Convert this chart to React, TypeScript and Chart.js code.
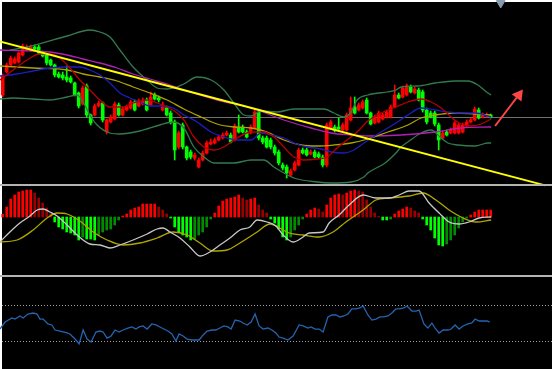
import React, { useEffect, useRef } from "react";
import { Chart, registerables } from "chart.js";
Chart.register(...registerables);

type Pt = [number, number];

// ---- Pane 1: candles (index 0..122) ----
const candleOpen = [89,112,119,121,122,129,134,134,137,137,132,129,124,119,110,109,107,106,101,91,80,98,69,69,78,81,52,62,65,79,69,74,76,82,78,80,84,79,89,86,74,76,71,62,37,59,37,32,26,17,24,31,40,41,44,46,49,49,44,57,57,52,51,56,72,46,46,44,37,32,19,17,9,14,19,34,34,30,32,30,27,19,56,57,57,54,54,64,77,74,76,84,71,61,62,65,67,67,77,89,87,89,97,91,94,92,74,71,71,59,46,52,51,51,51,52,58,62,64,74,67,68,69];
const candleHigh = [110,121,128,127,132,140,139,139,139,139,133,130,125,120,112,112,118,108,102,92,98,100,70,80,83,82,65,69,82,81,77,79,84,84,85,86,86,92,91,88,82,78,73,64,53,61,38,34,31,26,33,43,45,46,49,51,53,51,60,69,59,54,59,74,74,48,48,46,39,34,21,19,15,23,36,36,36,34,34,32,29,61,64,59,66,61,71,87,87,81,84,86,72,69,73,71,74,79,99,91,98,100,99,97,96,94,76,73,73,61,53,54,56,63,61,61,64,66,77,76,71,71,70];
const candleLow = [87,111,118,120,121,128,133,133,134,130,127,119,118,107,106,104,102,101,88,76,79,67,59,68,77,62,50,61,64,68,68,73,75,73,77,79,73,78,84,82,73,68,60,24,35,35,24,25,24,16,23,30,39,40,43,45,48,41,43,51,51,46,50,55,44,40,36,35,29,19,14,6,8,13,18,30,28,29,26,26,17,17,55,52,54,53,53,63,70,73,75,70,59,60,61,64,66,66,76,85,86,88,91,90,83,72,60,66,58,34,45,48,50,50,50,51,57,61,63,65,66,67,66];
const candleClose = [108,119,126,125,131,138,137,137,135,131,128,121,119,109,107,106,104,102,89,78,96,69,61,78,81,64,64,67,80,69,75,77,82,74,82,83,74,87,85,84,79,69,62,34,51,37,26,27,29,24,31,41,42,44,47,49,51,42,58,52,52,47,57,72,46,42,37,37,31,21,16,11,13,21,34,31,29,32,27,27,19,59,62,54,55,59,69,76,71,79,82,71,60,67,71,69,72,77,89,86,96,98,92,95,84,74,62,67,60,44,51,49,54,61,59,59,62,64,75,66,69,69,67];

// ---- Pane 1: indicator lines [bar index, value] ----
const bbUpper: Pt[] = [[1.8,134],[6.1,137],[16.1,148],[21.8,154],[24.3,152],[26.8,147],[29.3,134],[32.6,117],[36.1,104],[38.6,96],[41.1,95],[43.6,97],[45.3,100],[48.6,107],[52.1,104],[55.3,94],[57.8,81],[60.3,69],[62.1,68],[64.6,73],[68.6,72],[72.8,75],[80.3,75],[82.8,71],[85.3,67],[87.1,72],[88.6,84],[91.3,89],[98.3,94],[99.6,97],[103.8,98],[108.1,101],[113.1,103],[116.3,103],[118.8,99],[121.3,91],[122.1,89]];
const bbLower: Pt[] = [[-0.7,85],[2.6,86],[7.6,85],[11.8,84],[16.1,87],[18.6,89],[20.1,82],[21.8,69],[23.6,59],[26.8,51],[29.3,50],[34.3,53],[39.3,59],[42.6,62],[45.3,56],[47.8,37],[50.3,27],[52.8,21],[57.8,21],[62.1,24],[65.3,24],[67.8,17],[70.3,11],[72.8,6],[78.6,2],[82.1,1],[87.1,2],[90.3,7],[91.3,11],[95.6,21],[98.3,31],[99.6,37],[101.3,42],[104.6,51],[107.1,54],[109.6,46],[111.3,41],[113.8,39],[118.1,38],[121.3,41],[122.1,41]];
const maMagenta: Pt[] = [[-0.7,134],[7.6,133],[11.8,132],[16.1,129],[20.1,125],[24.3,121],[28.6,116],[32.6,110],[36.8,105],[41.1,100],[45.3,94],[53.6,84],[62.1,76],[70.3,64],[77.1,56],[82.1,51],[87.1,49],[91.3,48],[99.6,49],[108.1,52],[114.6,56],[122.1,57]];
const maOlive: Pt[] = [[-0.7,118],[3.6,117],[7.6,116],[16.1,114],[20.1,110],[24.3,107],[28.6,103],[32.6,97],[36.8,91],[41.1,84],[45.3,75],[49.6,67],[53.6,60],[57.8,57],[62.1,56],[66.1,52],[70.3,44],[74.6,39],[78.6,38],[82.8,39],[87.1,41],[91.3,45],[96.3,52],[101.3,59],[104.6,66],[108.1,69],[113.1,71],[118.1,70],[122.1,69]];
const maBlue: Pt[] = [[-0.7,108],[3.6,110],[7.6,113],[11.8,116],[16.1,117],[19.3,117],[21.8,114],[24.3,109],[26.8,101],[29.3,91],[31.8,86],[34.3,82],[36.8,78],[39.3,78],[42.6,76],[45.3,69],[48.6,62],[52.1,52],[55.3,47],[58.6,44],[62.1,44],[64.6,51],[67.1,49],[70.3,46],[72.8,41],[76.1,37],[79.6,35],[82.1,32],[85.3,31],[87.8,34],[90.3,41],[94.6,52],[98.3,61],[101.3,69],[104.6,76],[108.1,74],[111.3,72],[114.6,71],[118.1,71],[122.1,67]];
const maRed: Pt[] = [[-0.7,104],[2.6,114],[6.1,124],[9.3,130],[11.8,130],[14.3,126],[16.8,116],[19.3,104],[21.8,94],[24.3,84],[26.8,77],[30.1,77],[32.6,81],[36.1,84],[38.6,81],[41.1,77],[43.6,71],[45.3,64],[47.8,47],[50.3,37],[52.8,34],[55.3,37],[57.8,44],[62.1,52],[65.3,52],[67.8,47],[70.3,37],[72.8,27],[75.3,24],[78.6,25],[81.1,27],[83.6,36],[86.1,44],[88.6,52],[91.3,63],[94.6,71],[98.3,77],[101.3,82],[104.6,85],[107.1,82],[109.6,76],[112.1,67],[114.6,60],[117.1,58],[119.6,60],[122.1,65]];
const trendLine: Pt[] = [[-1,142.8],[135.6,-1.4]];
const arrowPts: Pt[] = [[123.1,58],[129.0,89]];
const shiftMarker: Pt[] = [[124.5,181]];

// ---- Pane 2: MACD ----
const macdHist = [2.7,10,18,22,25,26,27,27,24,19,14,9,3,-5,-10,-12,-15,-16,-18,-23,-20,-22,-22,-23,-18,-15,-13,-12,-8,-3,1,3,7,9,10,13,13,13,13,10,7,3,-1,-10,-15,-18,-20,-23,-22,-18,-15,-10,-2,4,11,16,18,19,20,22,19,17,18,19,12,7,4,-2,-6,-12,-20,-23,-20,-13,-8,-2,3,7,9,8,5,12,19,22,23,22,24,26,27,26,25,17,10,4,0.5,-3,-3,-2,3,6,8,10,9,6,4,-2,-8,-13,-21,-28,-29,-27,-23,-18,-11,-5,-1,2,5,7,7,7,7];
const macdMain: Pt[] = [[-0.7,-25],[1.8,-15],[4.3,-6],[6.8,1],[8.6,7],[10.1,8],[11.8,5],[13.6,1],[16.1,-8],[18.6,-18],[21.8,-27],[24.3,-28],[26.8,-31],[29.3,-28],[32.6,-23],[36.1,-17],[38.6,-12],[40.1,-11],[41.8,-15],[44.3,-21],[46.8,-30],[49.3,-39],[51.8,-35],[54.3,-28],[56.8,-21],[59.3,-13],[61.8,-10],[63.6,-3],[66.1,-5],[68.3,-9],[70.1,-18],[72.6,-25],[75.1,-20],[76.6,-16],[80.1,-15],[81.6,-6],[84.1,2],[86.6,12],[90.1,22],[93.3,19],[96.6,19],[99.1,22],[101.6,26],[104.1,26],[106.6,14],[109.1,4],[111.6,-5],[114.1,-7],[116.6,-5],[119.1,-1],[122.1,0]];
const macdSignal: Pt[] = [[-0.7,-25],[3.6,-23],[7.6,-13],[11.1,-1],[13.6,4],[16.1,3],[19.3,-4],[22.6,-15],[26.1,-23],[30.1,-28],[34.3,-26],[38.6,-21],[42.6,-15],[46.1,-18],[49.3,-26],[52.6,-34],[56.1,-33],[59.3,-26],[63.6,-15],[66.8,-7],[71.6,-16],[75.1,-18],[79.1,-20],[82.6,-15],[85.8,-5],[90.1,7],[93.3,17],[96.6,19],[101.6,21],[105.1,24],[108.3,17],[111.6,7],[115.1,-1],[118.3,-5],[122.1,-3]];

// ---- Pane 3: RSI ----
const rsiLine: Pt[] = [[-0.7,43.3],[0.6,51.1],[2.3,55.6],[3.1,54.4],[4.3,57.8],[5.1,55.6],[6.3,60],[7.6,61.1],[8.6,60],[9.3,54.4],[10.1,54.4],[11.3,48.9],[12.3,47.8],[13.1,42.2],[14.3,41.1],[16.1,38.9],[16.8,37.8],[18.1,32.2],[19.1,26.7],[20.1,42.2],[21.1,32.2],[22.1,28.9],[23.3,40],[24.3,41.1],[25.1,40],[26.1,33.3],[27.1,35.6],[28.1,42.2],[29.1,40],[30.1,42.2],[31.3,44.4],[32.3,45.6],[33.3,43.3],[34.1,45.6],[35.1,46.7],[36.1,43.3],[37.3,48.9],[38.3,47.8],[39.3,45.6],[40.3,43.3],[41.3,41.1],[42.3,37.8],[43.3,30],[44.1,37.8],[45.1,35.6],[46.1,32.2],[47.3,31.1],[48.3,31.1],[49.1,31.1],[50.1,36.7],[51.1,41.1],[52.3,42.2],[53.3,42.2],[54.3,44.4],[55.3,46.7],[56.3,45.6],[57.1,43.3],[58.1,53.3],[59.3,52.2],[60.1,50],[61.1,47.8],[62.1,51.1],[63.1,60],[64.1,46.7],[65.1,43.3],[66.3,44.4],[67.3,42.2],[68.3,38.9],[69.1,34.4],[70.1,33.3],[71.3,31.1],[72.6,35.6],[74.1,47.8],[75.1,46.7],[76.3,44.4],[77.1,45.6],[78.1,43.3],[79.1,43.3],[80.1,40],[81.3,56.7],[82.3,58.9],[83.3,58.9],[84.3,56.7],[85.3,57.8],[86.3,60],[87.3,65.6],[88.3,65.6],[89.3,66.7],[90.1,68.9],[91.3,58.9],[92.3,53.3],[93.3,54.4],[94.3,56.7],[95.3,56.7],[96.3,57.8],[97.3,61.1],[98.3,65.6],[99.3,65.6],[100.3,66.7],[101.1,68.9],[102.3,63.3],[103.3,63.3],[104.1,64.4],[105.3,48.9],[106.3,44.4],[107.3,50],[108.1,44.4],[109.1,38.9],[110.1,42.2],[111.3,42.2],[112.1,43.3],[113.1,47.8],[114.1,43.3],[115.1,46.7],[116.3,48.9],[117.3,50],[118.1,54.4],[119.1,52.2],[120.1,52.2],[121.1,52.2],[121.8,51.1]];
const rsiLevels = [70, 30];

const UP = "#ff0000";
const DOWN = "#00ff00";

const xy = (pts: Pt[]) => pts.map(([x, y]) => ({ x, y }));

export default function App() {
  const ref = useRef<HTMLCanvasElement | null>(null);

  useEffect(() => {
    document.body.style.margin = "0";
    document.body.style.background = "#000";
    const canvas = ref.current;
    if (!canvas) return;

    const idx = candleOpen.map((_, i) => i);
    const candleColors = idx.map((i) => (candleClose[i] >= candleOpen[i] ? UP : DOWN));
    const histColors = macdHist.map((v, i) => {
      const prev = i > 0 ? macdHist[i - 1] : 0;
      if (v >= 0) return v >= prev ? "#ff0000" : "#990000";
      return v <= prev ? "#00ff00" : "#008c00";
    });

    const lastClose = candleClose[candleClose.length - 1];

    const panels = {
      id: "panels",
      beforeDatasetsDraw(chart: any) {
        const { ctx, width, height } = chart;
        ctx.save();
        ctx.fillStyle = "#000";
        ctx.fillRect(0, 0, width, height);
        ctx.fillStyle = "#ffffff";
        ctx.fillRect(0, 0, width, 2);
        ctx.fillRect(0, 0, 2, height);
        // current price line
        const py = Math.round(chart.scales.y.getPixelForValue(lastClose)) + 0.5;
        ctx.strokeStyle = "#707070";
        ctx.lineWidth = 1;
        ctx.beginPath();
        ctx.moveTo(2, py);
        ctx.lineTo(width, py);
        ctx.stroke();
        // RSI levels
        ctx.strokeStyle = "#a0a0a0";
        ctx.setLineDash([1, 2]);
        rsiLevels.forEach((lv) => {
          const y = Math.round(chart.scales.yR.getPixelForValue(lv)) + 0.5;
          ctx.beginPath();
          ctx.moveTo(2, y);
          ctx.lineTo(width, y);
          ctx.stroke();
        });
        ctx.restore();
      },
      afterDatasetsDraw(chart: any) {
        const { ctx, width } = chart;
        ctx.save();
        ctx.fillStyle = "#b4b4b4";
        ctx.fillRect(0, 184, width, 2);
        ctx.fillRect(0, 275, width, 2);
        ctx.restore();
      },
    };

    const line = (data: Pt[], color: string, yAxisID: string, order: number, width = 1.3, extra: any = {}) => ({
      type: "line",
      data: xy(data),
      borderColor: color,
      backgroundColor: color,
      borderWidth: width,
      pointRadius: 0,
      yAxisID,
      xAxisID: "x",
      order,
      cubicInterpolationMode: "monotone",
      ...extra,
    });

    const chart = new Chart(canvas, {
      type: "bar",
      data: {
        datasets: [
          line(trendLine, "#ffff00", "y", 0, 2),
          {
            type: "line",
            data: xy(arrowPts),
            borderColor: "#ff4646",
            backgroundColor: "#ff4646",
            borderWidth: 2,
            pointRadius: [0, 5],
            pointStyle: "triangle",
            rotation: 37,
            yAxisID: "y",
            xAxisID: "x",
            order: 0,
          },
          {
            type: "line",
            data: xy(shiftMarker),
            showLine: false,
            pointStyle: "triangle",
            rotation: 180,
            pointRadius: 5,
            backgroundColor: "#8a9aae",
            borderColor: "#8a9aae",
            yAxisID: "y",
            xAxisID: "x",
            order: 0,
          },
          line(maRed, "#b80000", "y", 1),
          line(maBlue, "#1c1cc0", "y", 1),
          line(maOlive, "#b0a200", "y", 1),
          line(maMagenta, "#b020b8", "y", 1),
          line(bbUpper, "#327a4e", "y", 2),
          line(bbLower, "#327a4e", "y", 2),
          {
            type: "bar",
            data: idx.map((i) => ({ x: i, y: [Math.min(candleOpen[i], candleClose[i]), Math.max(candleOpen[i], candleClose[i])] })),
            backgroundColor: candleColors,
            barThickness: 3,
            minBarLength: 1,
            grouped: false,
            yAxisID: "y",
            xAxisID: "x",
            order: 4,
          },
          {
            type: "bar",
            data: idx.map((i) => ({ x: i, y: [candleLow[i], candleHigh[i]] })),
            backgroundColor: candleColors,
            barThickness: 1,
            grouped: false,
            yAxisID: "y",
            xAxisID: "x",
            order: 5,
          },
          {
            type: "bar",
            data: macdHist.map((v, i) => ({ x: i, y: v })),
            backgroundColor: histColors,
            barThickness: 2,
            grouped: false,
            yAxisID: "yM",
            xAxisID: "x",
            order: 6,
          },
          line(macdMain, "#c8c8c8", "yM", 1),
          line(macdSignal, "#b0a600", "yM", 1),
          line(rsiLine, "#2464b0", "yR", 1, 1.3, { cubicInterpolationMode: "default", tension: 0 }),
        ] as any,
      },
      options: {
        responsive: false,
        animation: false,
        devicePixelRatio: 1,
        events: [],
        layout: { padding: 0, autoPadding: false },
        plugins: { legend: { display: false }, tooltip: { enabled: false }, title: { display: false } },
        scales: {
          x: { type: "linear", min: -0.675, max: 137.325, display: false, offset: false, grid: { display: false } },
          y: { type: "linear", min: -185, max: 184, display: false, grid: { display: false } },
          yM: { type: "linear", min: -152, max: 217, display: false, grid: { display: false } },
          yR: { type: "linear", min: -1.111, max: 408.889, display: false, grid: { display: false } },
        },
      } as any,
      plugins: [panels],
    });

    return () => chart.destroy();
  }, []);

  return (
    <div style={{ width: 552, height: 369, background: "#000" }}>
      <canvas ref={ref} width={552} height={369} style={{ display: "block", width: 552, height: 369 }} />
    </div>
  );
}
